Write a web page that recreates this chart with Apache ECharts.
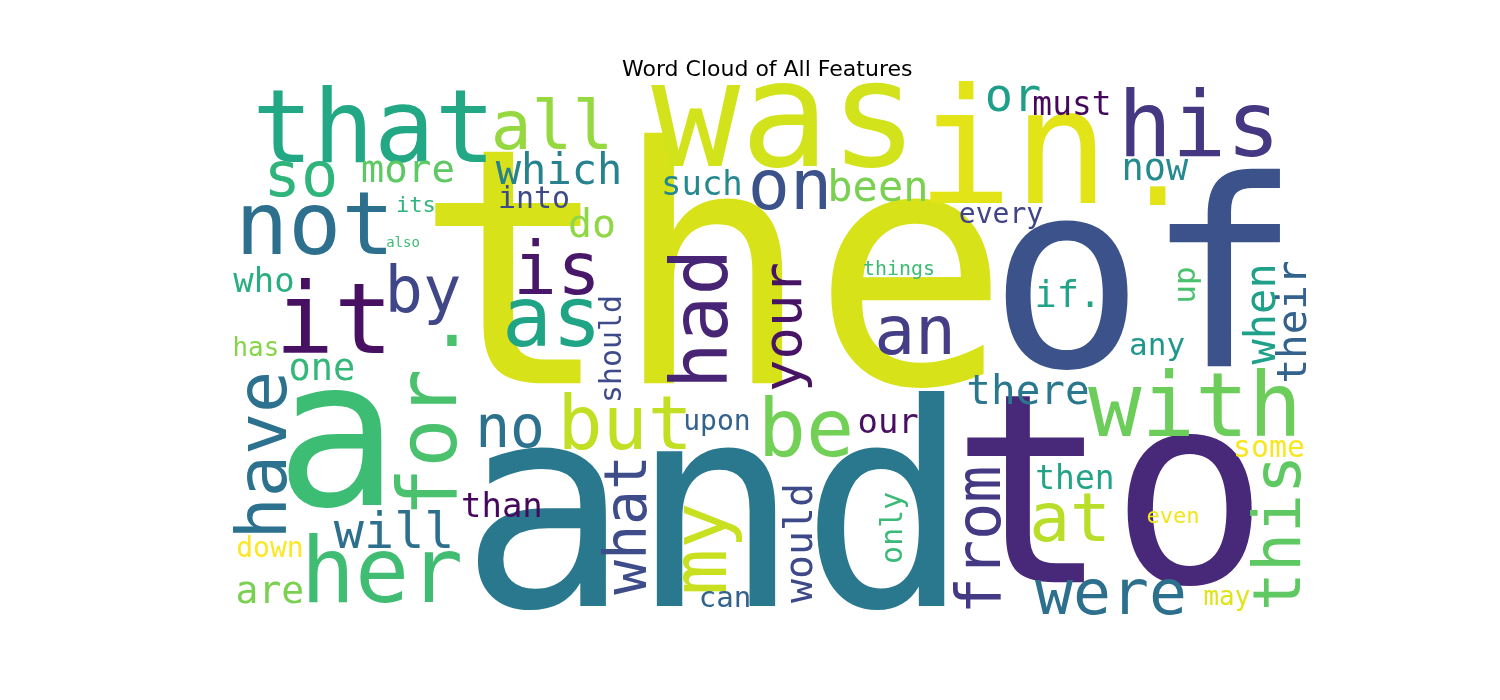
<!DOCTYPE html>
<html>
<head>
<meta charset="utf-8">
<title>Word Cloud of All Features</title>
<script src="https://cdn.jsdelivr.net/npm/echarts@6/dist/echarts.min.js"></script>
<style>
  html, body { margin: 0; padding: 0; background: #fff; }
  #cloud { width: 1500px; height: 700px; }
</style>
</head>
<body>
<div id="cloud"></div>
<script>
// word cloud laid out on a 400 x 200 canvas; x/y = baseline point (centre along it)
var words = ['the', 'of', 'and', 'to', 'was', 'in', 'that', 'his', 'all', 'or',
    'must', 'so', 'more', 'which', 'into', 'its', 'also', 'not', 'do', 'is',
    'it', 'by', 'as', 'on', 'such', 'been', 'now', 'every', 'things', 'had',
    'your', 'an', 'should', 'if.', 'up', 'when', 'their', 'any', 'there', 'with',
    'some', 'then', 'at', 'even', 'this', 'from', 'were', 'may', 'be', 'our',
    'upon', 'but', 'no', 'for', 'a', 'have', 'one', 'has', 'who', 'will',
    'than', 'down', 'are', 'her', 'what', 'my', 'would', 'can', 'only', '.', '.'];
var weights = [122.4, 96.5, 105.0, 98.3, 54.9, 59.4, 37.5, 33.4, 25.2, 17.4,
    12.2, 23.0, 14.5, 15.6, 11.1, 8.2, 5.2, 32.7, 14.8, 27.1,
    36.4, 23.7, 30.8, 26.0, 12.6, 15.6, 13.7, 10.4, 7.4, 28.9,
    20.0, 25.2, 11.1, 13.7, 11.5, 15.6, 15.2, 11.5, 15.2, 33.0,
    11.1, 12.2, 25.2, 8.2, 24.1, 23.0, 23.4, 9.6, 29.7, 12.6,
    10.4, 27.8, 21.5, 30.4, 76.1, 26.0, 13.7, 9.6, 12.6, 18.6,
    12.6, 10.4, 14.1, 33.4, 21.5, 28.6, 14.8, 10.8, 11.1, 46.0, 28.0];
var xs = [178.9, 339.5, 180.0, 326.5, 205.9, 290.5, 53.4, 359.6, 119.5, 290.5,
    312.4, 26.3, 66.0, 122.1, 112.8, 69.0, 64.2, 31.5, 134.3, 121.3,
    38.6, 71.6, 119.5, 207.8, 175.1, 240.4, 343.2, 286.1, 248.2, 184.8,
    212.2, 254.2, 145.1, 310.9, 358.1, 388.1, 399.3, 344.0, 296.1, 358.1,
    385.5, 313.5, 311.7, 349.9, 397.4, 286.1, 326.9, 369.9, 213.7, 244.2,
    180.7, 146.6, 103.9, 84.2, 39.7, 21.2, 34.1, 9.6, 12.6, 60.9,
    100.9, 14.8, 14.8, 56.4, 154.7, 184.4, 216.0, 183.7, 249.4, 344.3, 82.4];
var ys = [112.8, 106.1, 195.2, 186.3, 31.2, 44.9, 29.3, 27.1, 24.5, 10.4,
    11.5, 41.9, 36.7, 37.5, 46.0, 47.5, 60.5, 63.5, 56.8, 78.3,
    100.2, 85.0, 97.6, 46.8, 41.2, 43.8, 36.0, 51.6, 70.9, 87.2,
    90.2, 100.6, 98.3, 83.1, 74.6, 85.3, 88.3, 100.6, 119.1, 131.0,
    138.4, 150.3, 169.9, 162.9, 166.6, 169.2, 197.0, 193.3, 138.4, 129.5,
    128.4, 135.8, 135.1, 133.2, 157.3, 137.7, 110.2, 100.9, 77.2, 172.5,
    160.7, 175.5, 192.6, 192.6, 163.6, 172.5, 170.3, 194.4, 164.7, 45.6, 97.6];
var turned = [0, 0, 0, 0, 0, 0, 0, 0, 0, 0,
    0, 0, 0, 0, 0, 0, 0, 0, 0, 0,
    0, 0, 0, 0, 0, 0, 0, 0, 0, 1,
    1, 0, 1, 0, 1, 1, 1, 0, 0, 0,
    0, 0, 0, 0, 1, 1, 0, 0, 0, 0,
    0, 0, 0, 1, 0, 1, 0, 0, 0, 0,
    0, 0, 0, 0, 1, 1, 1, 0, 1, 0, 0];
var colors = ['#d8e219', '#3b528b', '#2a788e', '#482878', '#d2e21b', '#e2e418', '#22a884', '#453781', '#95d840', '#1f9e89',
    '#46085c', '#2fb47c', '#5ec962', '#26828e', '#3e4989', '#2fb47c', '#3dbc74', '#2d708e', '#8fd744', '#481769',
    '#471063', '#3f4788', '#20a486', '#3b528b', '#23898e', '#7ad151', '#238a8d', '#414487', '#3dbc74', '#482475',
    '#471365', '#433e85', '#3e4a89', '#20a386', '#4ac16d', '#1fa088', '#33638d', '#1f988b', '#2a788e', '#6ccd5a',
    '#f8e621', '#20a386', '#b8de29', '#f1e51d', '#5ec962', '#443983', '#2d708e', '#dfe318', '#73d056', '#470e61',
    '#33638d', '#c2df23', '#2c728e', '#4ac16d', '#3dbc74', '#2c728e', '#35b779', '#86d549', '#29af7f', '#2d708e',
    '#46085c', '#fde725', '#7ad151', '#40bd72', '#3e4c8a', '#c8e020', '#3e4989', '#33638d', '#3aba76', '#e2e418', '#4ac16d'];

var cloudW = 400, cloudH = 200;
var grid = { left: 230, top: 84, width: 1078, height: 539 };
var pxPerUnit = grid.height / cloudH;
// distance from the label's middle to its baseline, in em
var midShift = 0.274;

var points = words.map(function (w, i) {
    var x = xs[i], y = ys[i];
    if (turned[i]) {
        x = x - midShift * weights[i];
    } else {
        y = y - midShift * weights[i];
    }
    return {
        value: [x, y],
        name: w,
        label: {
            fontSize: weights[i] * pxPerUnit,
            color: colors[i],
            rotate: turned[i] ? 90 : 0
        }
    };
});

var myChart = echarts.init(document.getElementById('cloud'));
var option = {
    backgroundColor: '#fff',
    animation: false,
    title: {
        text: 'Word Cloud of All Features',
        left: 622,
        top: 59,
        padding: 0,
        textStyle: {
            fontFamily: 'DejaVu Sans',
            fontSize: 22,
            fontWeight: 'normal',
            color: '#000'
        }
    },
    grid: grid,
    xAxis: { type: 'value', min: 0, max: cloudW, show: false },
    yAxis: { type: 'value', min: 0, max: cloudH, inverse: true, show: false },
    series: [
        {
            type: 'scatter',
            symbolSize: 1,
            itemStyle: { color: 'transparent', opacity: 1 },
            silent: true,
            clip: false,
            label: {
                show: true,
                position: 'inside',
                align: 'center',
                verticalAlign: 'middle',
                opacity: 1,
                fontFamily: 'DejaVu Sans Mono',
                formatter: function (p) { return p.name; }
            },
            data: points
        }
    ]
};
myChart.setOption(option);
</script>
</body>
</html>
